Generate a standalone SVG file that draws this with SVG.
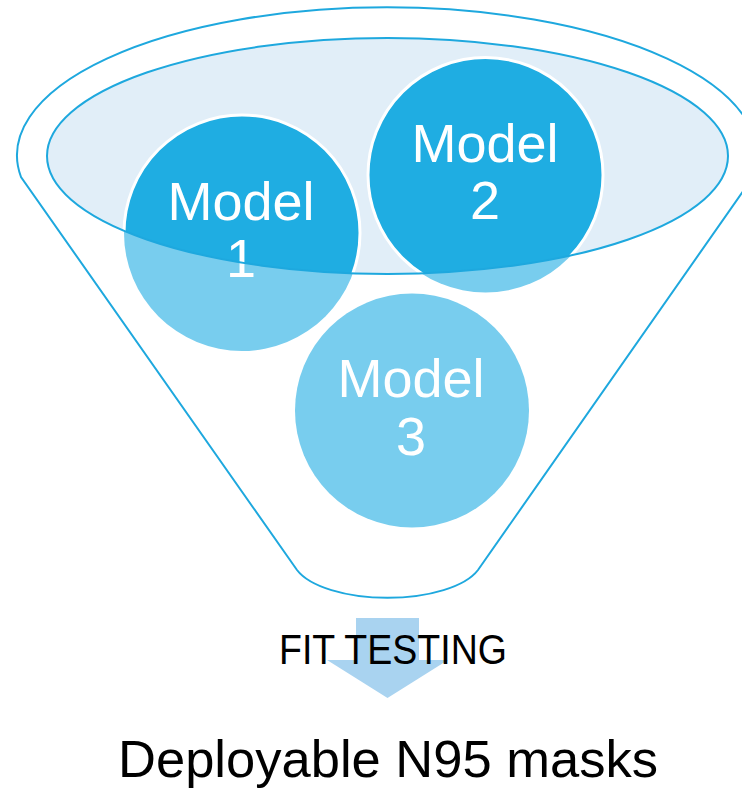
<svg xmlns="http://www.w3.org/2000/svg" width="742" height="790" viewBox="0 0 742 790">
<style>
.outline{fill:none;stroke:#1EA8DE;stroke-width:2}
.light{fill:#78CDEE}
.dark{fill:#1FADE2;stroke:#FFFFFF;stroke-width:3}
.lbl{font-family:"Liberation Sans",Arial,sans-serif;font-size:54px;fill:#FFFFFF;text-anchor:middle}
.cap{font-family:"Liberation Sans",Arial,sans-serif;fill:#000000;text-anchor:middle}
</style>
<defs>
<clipPath id="mouth"><ellipse cx="387.5" cy="156" rx="340.5" ry="118"/></clipPath>
</defs>
<rect width="742" height="790" fill="#FFFFFF"/>
<g id="funnel">
<path class="outline" fill="#FFFFFF" d="M 21 177 A 370 148 0 1 1 753 177 L 478 570 A 95 40 0 0 1 297 570 Z"/>
<ellipse cx="387.5" cy="156" rx="340.5" ry="118" fill="#E1EEF8"/>
</g>
<g id="model1">
<circle class="light" cx="242" cy="233" r="118"/>
<circle class="dark" cx="242" cy="233" r="118" clip-path="url(#mouth)"/>
<text class="lbl" x="241" y="220">Model</text>
<text class="lbl" x="241" y="277">1</text>
</g>
<g id="model2">
<circle class="light" cx="485.5" cy="175" r="117.5"/>
<circle class="dark" cx="485.5" cy="175" r="117.5" clip-path="url(#mouth)"/>
<text class="lbl" x="485" y="162">Model</text>
<text class="lbl" x="485" y="219">2</text>
</g>
<g id="model3">
<circle class="light" cx="412" cy="410.5" r="117"/>
<text class="lbl" x="411" y="397">Model</text>
<text class="lbl" x="411" y="455">3</text>
</g>
<g id="mouth-rim">
<ellipse class="outline" cx="387.5" cy="156" rx="340.5" ry="118"/>
</g>
<g id="connectors">
<path d="M 356 618 L 419 618 L 419 660 L 448 660 L 387.5 698 L 327 660 L 356 660 Z" fill="#A9D3F0"/>
</g>
<g id="fit-testing">
<text class="cap" x="393" y="664" font-size="42" textLength="228" lengthAdjust="spacingAndGlyphs">FIT TESTING</text>
</g>
<g id="deployable">
<text class="cap" x="388" y="777" font-size="52" textLength="540" lengthAdjust="spacingAndGlyphs">Deployable N95 masks</text>
</g>
</svg>
